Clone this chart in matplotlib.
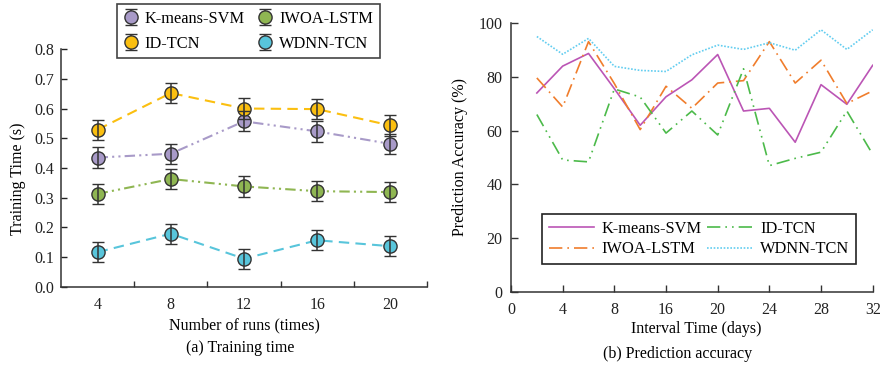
import matplotlib
matplotlib.use('Agg')
import matplotlib.pyplot as plt

plt.rcParams['font.family'] = ['Liberation Serif', 'DejaVu Serif']
plt.rcParams['font.size'] = 11

# (a) training time
runs = [4, 8, 12, 16, 20]
time_kmeans = [0.435, 0.448, 0.557, 0.523, 0.481]
time_idtcn = [0.529, 0.652, 0.600, 0.598, 0.543]
time_iwoa = [0.313, 0.363, 0.338, 0.322, 0.319]
time_wdnn = [0.117, 0.179, 0.095, 0.157, 0.137]
time_err = [0.034, 0.034, 0.034, 0.034, 0.034]

# (b) prediction accuracy
days = [2, 4, 6, 8, 10, 12, 14, 16, 18, 20, 22, 24, 26, 28]
acc_kmeans = [74.0, 84.0, 88.7, 75.6, 62.0, 72.6, 78.9, 88.3, 67.3, 68.3, 55.7, 77.1, 69.8, 84.3]
acc_iwoa = [79.6, 68.8, 93.1, 77.5, 60.4, 76.5, 68.3, 77.7, 78.6, 93.1, 77.7, 86.2, 70.1, 74.8]
acc_idtcn = [66.0, 49.1, 48.4, 75.5, 72.5, 59.1, 67.3, 58.4, 83.0, 47.0, 49.7, 52.0, 67.3, 51.2]
acc_wdnn = [95.0, 88.4, 94.3, 83.9, 82.4, 82.0, 88.2, 91.8, 90.2, 92.7, 89.9, 97.5, 90.2, 97.5]
day_ticks = [0, 4, 8, 12, 16, 20, 24, 28]
day_labels = ['0', '4', '8', '16', '20', '24', '28', '32']

fig = plt.figure(figsize=(8.8, 3.66), dpi=100)
ax1 = fig.add_axes([0.0693, 0.216, 0.416, 0.650])
ax2 = fig.add_axes([0.5807, 0.202, 0.411, 0.735])

edge = '#333333'
series_a = [
    ('K-means-SVM', time_kmeans, '#a89ac8', (0, (5, 2, 1, 2, 1, 2))),
    ('ID-TCN', time_idtcn, '#fbbf10', (0, (5, 3))),
    ('IWOA-LSTM', time_iwoa, '#8fb652', (0, (5, 2, 1, 2, 1, 2))),
    ('WDNN-TCN', time_wdnn, '#58c5db', (0, (5, 3))),
]
handles = []
for name, vals, col, ls in series_a:
    ax1.plot(runs, vals, color=col, ls=ls, lw=1.5, zorder=2)
    h = ax1.errorbar(runs, vals, yerr=time_err, fmt='o', ms=9.5, mfc=col, mec=edge,
                     mew=1.0, ecolor=edge, elinewidth=1.1, capsize=4.5, capthick=1.1,
                     barsabove=True, label=name, zorder=3)
    handles.append(h)

ax1.set_xlim(2, 22)
ax1.set_ylim(0, 0.8)
ax1.set_xticks(runs)
ax1.set_xticks([6, 10, 14, 18, 22], minor=True)
ax1.set_yticks([0, 0.1, 0.2, 0.3, 0.4, 0.5, 0.6, 0.7, 0.8])
ax1.set_yticklabels(['0.0', '0.1', '0.2', '0.3', '0.4', '0.5', '0.6', '0.7', '0.8'])
ax1.tick_params(axis='x', which='major', length=0, pad=7, labelsize=11.5, colors='#222')
ax1.tick_params(axis='x', which='minor', direction='in', length=4.5, width=1, color=edge)
ax1.tick_params(axis='y', direction='in', length=4.5, width=1, pad=5, labelsize=11.5, colors='#222')
for s in ['top', 'right']:
    ax1.spines[s].set_visible(False)
for s in ['left', 'bottom']:
    ax1.spines[s].set_color(edge)
    ax1.spines[s].set_linewidth(1.1)
ax1.set_xlabel('Number of runs (times)', fontsize=11.5)
ax1.xaxis.set_label_coords(0.5, -0.16)
ax1.xaxis.label.set_va('center')
ax1.set_ylabel('Training Time (s)', fontsize=11.5)
ax1.yaxis.set_label_coords(-0.117, 0.454)
ax1.yaxis.label.set_va('center')
leg1 = ax1.legend(handles=handles, ncol=2, loc='upper left',
                  bbox_to_anchor=(117 / 880, 1 - 4 / 366), bbox_transform=fig.transFigure,
                  borderaxespad=0, fontsize=11.8, handlelength=0.9, handletextpad=0.4,
                  columnspacing=0.8, labelspacing=0.55, fancybox=False, framealpha=1,
                  edgecolor='#444444', borderpad=0.4)
leg1.get_frame().set_linewidth(1.2)

series_b = [
    ('K-means-SVM', acc_kmeans, '#bb55b5', '-'),
    ('IWOA-LSTM', acc_iwoa, '#f07d2c', (0, (8, 3, 1, 3))),
    ('ID-TCN', acc_idtcn, '#4cba4a', (0, (8, 3, 1, 3, 1, 3))),
    ('WDNN-TCN', acc_wdnn, '#62cdf0', (0, (1, 1))),
]
for name, vals, col, ls in series_b:
    ax2.plot(days, vals, color=col, ls=ls, lw=1.2, label=name)

ax2.set_xlim(0, 28)
ax2.set_ylim(0, 100)
ax2.set_xticks(day_ticks)
ax2.set_xticklabels(day_labels)
ax2.set_yticks([0, 20, 40, 60, 80, 100])
ax2.tick_params(direction='in', length=5, width=1, color=edge, labelsize=11.5, colors='#222')
ax2.tick_params(axis='x', pad=7)
ax2.tick_params(axis='y', pad=6)
for s in ['top', 'right']:
    ax2.spines[s].set_visible(False)
for s in ['left', 'bottom']:
    ax2.spines[s].set_color(edge)
    ax2.spines[s].set_linewidth(1.1)
ax2.set_xlabel('Interval Time (days)', fontsize=11.5)
ax2.xaxis.set_label_coords(0.511, -0.138)
ax2.xaxis.label.set_va('center')
ax2.set_ylabel('Prediction Accuracy (%)', fontsize=11.5)
ax2.yaxis.set_label_coords(-0.141, 0.502)
ax2.yaxis.label.set_va('center')
leg2 = ax2.legend(ncol=2, loc='lower left',
                  bbox_to_anchor=(542 / 880, 1 - 264 / 366), bbox_transform=fig.transFigure,
                  borderaxespad=0, fontsize=11.8, handlelength=2.8, handletextpad=0.45,
                  columnspacing=0.3, labelspacing=0.3, fancybox=False, framealpha=1,
                  edgecolor='#222222', borderpad=0.4)
leg2.get_frame().set_linewidth(1.2)

fig.text(240 / 880, 1 - 348 / 366, '(a) Training time', ha='center', va='center', fontsize=11.5)
fig.text(678 / 880, 1 - 354 / 366, '(b) Prediction accuracy', ha='center', va='center', fontsize=11.5)

fig.savefig('out.png', dpi=100)
